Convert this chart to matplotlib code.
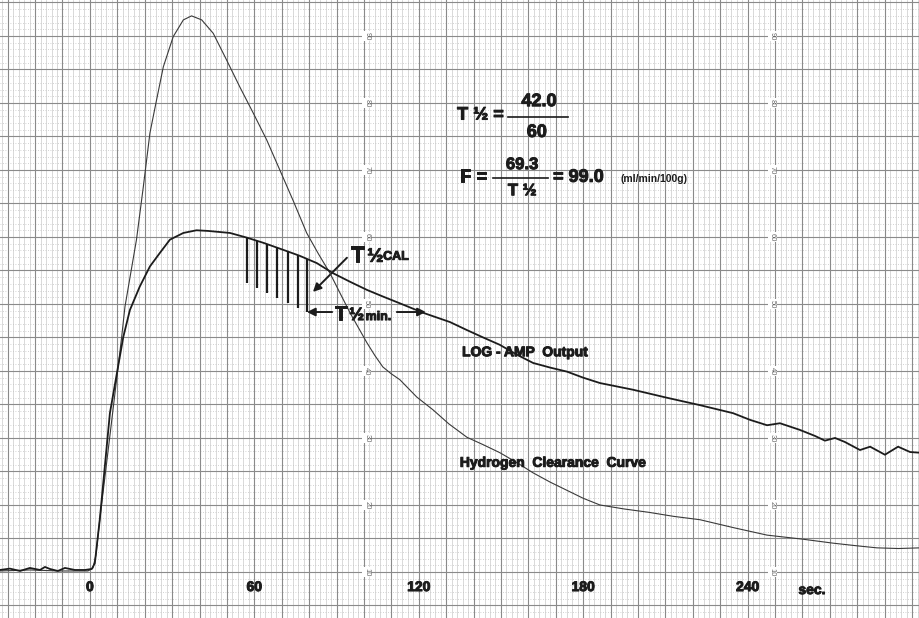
import numpy as np
import matplotlib
matplotlib.use("Agg")
import matplotlib.pyplot as plt
import matplotlib.patheffects as pe

plt.rcParams["font.family"] = ["Liberation Sans", "DejaVu Sans"]

# hydrogen clearance curve (thin trace), time in sec, chart units
h2_t = [-32.8, -21.9, -11.0, -0.7, 1.1, 2.2, 3.6, 7.5, 11.6, 12.8, 17.0,
        19.5, 21.9, 24.3, 26.8, 30.4, 34.1, 37.1, 40.8, 45.0, 49.9, 54.7,
        59.6, 64.5, 69.3, 74.2, 79.1, 83.5, 87.6, 91.3, 94.9, 98.2, 101.1,
        104.0, 106.9, 109.9, 113.1, 119.3, 125.2, 131.0, 137.6, 143.5, 149.6,
        155.5, 161.7, 168.0, 174.0, 180.0, 186.1, 195.0, 204.0, 213.0, 222.6,
        235.0, 247.1, 260.0, 271.2, 280.0, 287.2, 295.0, 302.9]
h2_val = [10.15, 10.3, 10.15, 10.15, 10.6, 12.5, 17.8, 31.0, 45.1, 49.6, 59.6,
          67.5, 75.5, 80.4, 85.4, 89.9, 92.4, 93.0, 92.4, 90.4, 86.4, 82.4,
          78.5, 74.5, 70.0, 65.4, 60.6, 57.4, 54.6, 51.6, 48.7, 46.3, 44.2,
          42.3, 40.6, 39.6, 38.7, 36.1, 34.2, 32.1, 30.1, 29.0, 27.8,
          26.4, 24.8, 23.4, 22.2, 21.0, 20.0, 19.4, 18.9, 18.3, 17.8,
          16.6, 15.5, 14.9, 14.3, 13.9, 13.6, 13.5, 13.6]

# LOG-AMP output (thick trace)
amp_t = [-32.8, -29.2, -25.5, -21.9, -18.2, -16.4, -14.6, -11.7, -9.1, -5.5,
         -1.8, 0.7, 1.8, 3.6, 7.3, 10.0, 12.2, 14.6, 18.2, 21.9, 25.5, 29.2,
         34.1, 38.9, 43.2, 51.1, 57.3, 63.5, 70.4, 76.5, 82.8, 88.7, 95.0,
         101.1, 107.0, 113.1, 121.5, 131.4, 137.6, 143.5, 149.6, 155.5, 161.7,
         168.0, 174.1, 180.0, 186.1, 198.2, 210.6, 222.6, 234.7, 240.9, 247.1,
         251.8, 259.1, 264.6, 268.2, 271.9, 275.5, 281.0, 284.7, 290.1, 294.9,
         299.3, 302.9]
amp_val = [10.3, 10.5, 10.15, 10.6, 10.3, 10.75, 10.45, 10.15, 10.6, 10.3,
           10.3, 10.45, 11.3, 17.8, 33.7, 40.0, 45.1, 49.1, 52.6, 55.6, 57.6,
           59.6, 60.6, 61.0, 60.9, 60.6, 59.9, 59.1, 58.1, 57.2, 56.1, 54.6,
           53.3, 52.1, 51.1, 50.1, 48.7, 47.3, 46.1, 45.0, 43.9, 42.5, 41.2,
           40.5, 39.9, 39.0, 38.2, 37.2, 36.0, 34.9, 33.7, 32.7, 31.9,
           32.2, 31.2, 30.3, 29.6, 30.0, 29.4, 28.2, 28.7, 27.5, 28.7,
           27.9, 27.8]

# hatching under LOG-AMP curve
hatch_t = [57.3, 60.9, 64.6, 68.2, 72.3, 75.9, 79.2]
hatch_bottom = [53.1, 52.4, 51.6, 50.9, 50.1, 49.4, 48.8]

x_ticks = [0, 60, 120, 180, 240]
grid_labels = [10, 20, 30, 40, 50, 60, 70, 80, 90]

paper_major = "#8a8a8a"
paper_minor = "#c4c4c4"
ink = "#1c1c1c"
heavy = [pe.withStroke(linewidth=0.7, foreground=ink)]


def label(ax, x, y, s, size, **kw):
    ax.text(x, y, s, fontsize=size, fontweight="bold", color=ink,
            path_effects=heavy, zorder=7, **kw)


def main():
    fig = plt.figure(figsize=(9.2, 6.18), dpi=100)
    ax = fig.add_axes([0, 0, 1, 1])
    ax.set_xlim(-32.8, 302.9)
    ax.set_ylim(3.13, 95.37)
    ax.axis("off")
    fig.patch.set_facecolor("white")

    # chart paper grid
    for x in np.arange(-32, 303, 2):
        if x % 10 == 0:
            ax.axvline(x, color=paper_major, lw=0.8, zorder=1)
        else:
            ax.axvline(x, color=paper_minor, lw=0.45, zorder=0)
    for y in np.arange(4, 96, 1):
        if y % 5 == 0:
            ax.axhline(y, color=paper_major, lw=0.8, zorder=1)
        else:
            ax.axhline(y, color=paper_minor, lw=0.6, ls=(0, (1, 2)), zorder=0)

    for col in (101, 249):
        for v in grid_labels:
            ax.text(col, v, str(v), rotation=270, fontsize=5.5, color="#666666",
                    ha="center", va="center", zorder=2,
                    bbox=dict(boxstyle="square,pad=0.1", fc="white", ec="none"))

    # traces
    ax.plot(h2_t, h2_val, color="#3a3a3a", lw=0.8, zorder=4)
    ax.plot(amp_t, amp_val, color=ink, lw=1.3, zorder=5)

    tops = np.interp(hatch_t, amp_t, amp_val)
    ax.vlines(hatch_t, hatch_bottom, tops, color=ink, lw=1.6, zorder=5)

    # T1/2 min arrow
    y_min = hatch_bottom[-1]
    arrow = dict(arrowstyle="-|>", color=ink, lw=1.4, mutation_scale=12,
                 shrinkA=0, shrinkB=0)
    ax.annotate("", xy=(hatch_t[-1], y_min), xytext=(88.4, y_min),
                arrowprops=arrow)
    ax.annotate("", xy=(122.6, y_min), xytext=(112.0, y_min),
                arrowprops=arrow)
    label(ax, 89.2, 47.6, "T", 15)
    label(ax, 94.6, 47.6, "½", 13)
    label(ax, 100.6, 47.6, "min.", 9)

    # T1/2 CAL arrow
    ax.annotate("", xy=(81.4, 51.8), xytext=(93.8, 56.9), arrowprops=arrow)
    label(ax, 95.2, 56.3, "T", 16)
    label(ax, 101.2, 56.3, "½", 14)
    label(ax, 107.0, 56.6, "CAL", 9)

    # formulas
    label(ax, 134.0, 78.2, "T ½ =", 13, va="center")
    ax.plot([152.6, 174.5], [77.9, 77.9], color=ink, lw=1.2)
    label(ax, 163.9, 80.2, "42.0", 13, ha="center", va="center")
    label(ax, 163.1, 75.6, "60", 13, ha="center", va="center")

    label(ax, 135.0, 68.9, "F =", 13, va="center")
    ax.plot([147.1, 167.2], [68.8, 68.8], color=ink, lw=1.2)
    label(ax, 157.7, 70.8, "69.3", 12, ha="center", va="center")
    label(ax, 157.7, 66.9, "T ½", 12, ha="center", va="center")
    label(ax, 169.0, 68.9, "= 99.0", 13, va="center")
    ax.text(193.6, 68.7, "(ml/min/100g)", fontsize=7.5, fontweight="bold",
            color=ink, va="center")

    # curve labels
    label(ax, 135.8, 42.8, "LOG - AMP  Output", 10, va="center")
    label(ax, 135.0, 26.3, "Hydrogen  Clearance  Curve", 10, va="center")

    # time axis labels
    for t in x_ticks:
        label(ax, t, 7.75, str(t), 10, ha="center", va="center")
    label(ax, 263.5, 7.3, "sec.", 10, ha="center", va="center")

    fig.savefig("out.png", dpi=100, facecolor="white")


if __name__ == "__main__":
    main()
